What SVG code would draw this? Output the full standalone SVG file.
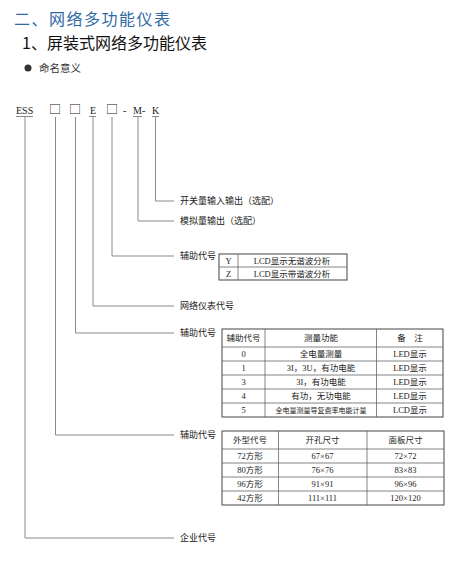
<svg xmlns="http://www.w3.org/2000/svg" width="450" height="569" viewBox="0 0 450 569">
<style>
text{font-family:"Liberation Serif","Noto Sans CJK SC",serif;fill:#222}
.lbl{font-size:9px}
.code{font-size:10px}
.sq{font-family:"Noto Sans CJK SC",sans-serif;font-size:12px}
.c{text-anchor:middle}
.conn{fill:none;stroke:#8a8a8a;stroke-width:1}
.tb{fill:#fff;stroke:#555;stroke-width:1.1}
.tl{stroke:#666;stroke-width:0.8}
.t{font-size:8.5px}
</style>
<g id="title">
<text x="14" y="25" style="font-family:'Noto Sans CJK SC',sans-serif;font-size:16px;fill:#2f6aa5;letter-spacing:1.5px">二、网络多功能仪表</text>
<text x="22" y="49" style="font-family:'Noto Sans CJK SC',sans-serif;font-size:16px;fill:#111">1、屏装式网络多功能仪表</text>
<circle cx="28" cy="68" r="3.5" fill="#333"/>
<text x="39" y="72" style="font-family:'Noto Sans CJK SC',sans-serif;font-size:10.5px;fill:#333">命名意义</text>
</g>
<g id="code">
<text class="code" x="16" y="114">ESS</text>
<text class="sq" x="49" y="114">□</text>
<text class="sq" x="69" y="114">□</text>
<text class="code" x="90" y="114">E</text>
<text class="sq" x="106" y="114">□</text>
<text class="code" x="123" y="114">-</text>
<text class="code" x="133" y="114">M-</text>
<text class="code" x="152" y="114">K</text>
</g>
<g id="connectors">
<path class="conn" d="M16 116.5H33 M25 116.5V538H174"/>
<path class="conn" d="M55.5 117V435H174"/>
<path class="conn" d="M75.5 117V333H174"/>
<path class="conn" d="M89 116.5H96 M93 116.5V306H174"/>
<path class="conn" d="M112 117V256H174"/>
<path class="conn" d="M133 116.5H142 M138 116.5V221H174"/>
<path class="conn" d="M152 116.5H159 M155.5 116.5V201H174"/>
</g>
<g id="n-switch"><text class="lbl" x="180" y="204">开关量输入输出（选配）</text></g>
<g id="n-analog"><text class="lbl" x="180" y="224">模拟量输出（选配）</text></g>
<g id="n-aux1">
<text class="lbl" x="180" y="259">辅助代号</text>
<rect class="tb" x="219" y="254" width="128" height="26"/>
<line class="tl" x1="219" y1="267" x2="347" y2="267"/>
<line class="tl" x1="238" y1="254" x2="238" y2="280"/>
<text class="c t" x="228.5" y="264">Y</text>
<text class="c t" x="292" y="264">LCD显示无谐波分析</text>
<text class="c t" x="228.5" y="277">Z</text>
<text class="c t" x="292" y="277">LCD显示带谐波分析</text>
</g>
<g id="n-net"><text class="lbl" x="180" y="309">网络仪表代号</text></g>
<g id="n-aux2">
<text class="lbl" x="180" y="336">辅助代号</text>
<rect class="tb" x="222" y="329" width="221" height="88"/>
<path class="tl" d="M222 347H443 M222 361H443 M222 375H443 M222 389H443 M222 403H443 M265 329V417 M376.5 329V417"/>
<text class="c t" x="243.5" y="341">辅助代号</text>
<text class="c t" x="321" y="341">测量功能</text>
<text class="c t" x="410" y="341">备　注</text>
<text class="c t" x="243.5" y="357">0</text>
<text class="c t" x="321" y="357">全电量测量</text>
<text class="c t" x="410" y="357">LED显示</text>
<text class="c t" x="243.5" y="371">1</text>
<text class="c t" x="321" y="371">3I，3U，有功电能</text>
<text class="c t" x="410" y="371">LED显示</text>
<text class="c t" x="243.5" y="385">3</text>
<text class="c t" x="321" y="385">3I，有功电能</text>
<text class="c t" x="410" y="385">LED显示</text>
<text class="c t" x="243.5" y="399">4</text>
<text class="c t" x="321" y="399">有功，无功电能</text>
<text class="c t" x="410" y="399">LED显示</text>
<text class="c t" x="243.5" y="413">5</text>
<text class="c" x="321" y="413" style="font-size:7px">全电量测量导复费率电能计量</text>
<text class="c t" x="410" y="413">LCD显示</text>
</g>
<g id="n-aux3">
<text class="lbl" x="180" y="438">辅助代号</text>
<rect class="tb" x="222" y="431" width="222" height="74"/>
<path class="tl" d="M222 449H444 M222 463H444 M222 477H444 M222 491H444 M278.5 431V505 M367 431V505"/>
<text class="c t" x="250" y="443">外型代号</text>
<text class="c t" x="322.5" y="443">开孔尺寸</text>
<text class="c t" x="405.5" y="443">面板尺寸</text>
<text class="c t" x="250" y="459">72方形</text>
<text class="c t" x="322.5" y="459">67×67</text>
<text class="c t" x="405.5" y="459">72×72</text>
<text class="c t" x="250" y="473">80方形</text>
<text class="c t" x="322.5" y="473">76×76</text>
<text class="c t" x="405.5" y="473">83×83</text>
<text class="c t" x="250" y="487">96方形</text>
<text class="c t" x="322.5" y="487">91×91</text>
<text class="c t" x="405.5" y="487">96×96</text>
<text class="c t" x="250" y="501">42方形</text>
<text class="c t" x="322.5" y="501">111×111</text>
<text class="c t" x="405.5" y="501">120×120</text>
</g>
<g id="n-company"><text class="lbl" x="180" y="541">企业代号</text></g>
</svg>
